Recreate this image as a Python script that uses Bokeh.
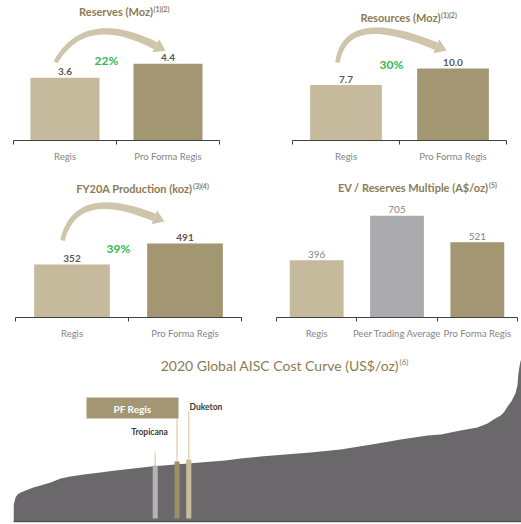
import numpy as np
from bokeh.plotting import figure
from bokeh.models import (Range1d, LinearAxis, FixedTicker, CustomJSTickFormatter,
                          Label, Span, ColumnDataSource)
from bokeh.layouts import column, row
from bokeh.embed import file_html
from bokeh.resources import INLINE
from bokeh.core.properties import value

# ---------------- data ----------------
two_cats = ["Regis", "Pro Forma Regis"]
reserves_moz = [3.6, 4.4]
resources_moz = [7.7, 10.0]
production_koz = [352, 491]
ev_cats = ["Regis", "Peer Trading Average", "Pro Forma Regis"]
ev_multiple = [396, 705, 521]
growth = ["22%", "30%", "39%"]

curve_cum_pct = [0, 0.4, 0.8, 1.4, 2.4, 3.9, 5.3, 7.3, 9.3, 11.2, 13.8, 17.1, 20.1, 23.6,
                 27.0, 31.9, 36.8, 41.7, 44.7, 48.6, 53.5, 58.5, 64.4, 71.7, 76.2, 81.5,
                 84.1, 88.0, 91.3, 93.3, 94.5, 95.9, 96.5, 97.4, 98.0, 98.4, 98.8, 99.2,
                 99.4, 99.6, 99.8, 100]
curve_aisc = [240, 360, 405, 435, 465, 510, 540, 585, 645, 675, 705, 735, 765, 795,
              825, 855, 885, 915, 945, 975, 1005, 1035, 1080, 1170, 1230, 1290,
              1305, 1365, 1410, 1470, 1530, 1590, 1635, 1740, 1800, 1860, 1920, 2040,
              2220, 2325, 2400, 2445]
mine_names = ["Tropicana", "PF Regis", "Duketon"]
mine_cum_pct = [27.9, 32.2, 34.5]
mine_aisc = [840, 900, 930]

# ---------------- style ----------------
FONT = "Lato"
TITLE_C = "#8B7B55"
AXIS_C = "#404040"
LABEL_C = "#858585"
VALUE_C = "#595959"
LIGHT = "#C6BA9D"
DARK = "#A39672"
PEER = "#ABABAF"
GREEN = "#33B853"
ARROW_C = "#CEC5AA"


def make_conv(page_left, page_top, b_left, frame_w, frame_h, x0, x1, y0, y1):
    fl = page_left + b_left
    ft = page_top

    def cx(px):
        return x0 + (px - fl) / frame_w * (x1 - x0)

    def cy(py):
        return y1 - (py - ft) / frame_h * (y1 - y0)
    return cx, cy


def add_title(p, cx, cy, split_x, y, main, sup, size="11px", bold=True):
    p.add_layout(Label(x=cx(split_x), y=cy(y), text=main, text_align="right",
                       text_baseline="middle", text_font=FONT, text_font_size=size,
                       text_font_style="bold" if bold else "normal", text_color=TITLE_C))
    p.add_layout(Label(x=cx(split_x + 0.5), y=cy(y - 2.5), text=sup, text_align="left",
                       text_baseline="middle", text_font=FONT, text_font_size="7px",
                       text_font_style="bold" if bold else "normal", text_color=TITLE_C))


def add_arrow(p, cx, cy, T, C, E, w0=4.5, w1=8.0, head_len=11.0, head_w=15.0):
    T = np.array(T, float); C = np.array(C, float); E = np.array(E, float)
    d = (E - C) / np.linalg.norm(E - C)
    H = E - d * head_len
    t = np.linspace(0, 1, 40)[:, None]
    P = (1 - t) ** 2 * T + 2 * t * (1 - t) * C + t ** 2 * H
    D = 2 * (1 - t) * (C - T) + 2 * t * (H - C)
    D = D / np.linalg.norm(D, axis=1)[:, None]
    N = np.stack([-D[:, 1], D[:, 0]], axis=1)
    w = (w0 + (w1 - w0) * t[:, 0])[:, None] / 2
    poly = np.vstack([P + N * w, (P - N * w)[::-1]])
    p.patch([cx(v) for v in poly[:, 0]], [cy(v) for v in poly[:, 1]],
            fill_color=ARROW_C, line_color=None)
    n_end = np.array([-d[1], d[0]])
    head = np.array([H + n_end * head_w / 2, E, H - n_end * head_w / 2])
    p.patch([cx(v) for v in head[:, 0]], [cy(v) for v in head[:, 1]],
            fill_color=ARROW_C, line_color=None)


def bar_panel(cats, vals, colors, ppu, page_left, page_top, fig_w, fig_h,
              b_left, b_right, b_bottom, fmt, bold_values=True):
    n = len(cats)
    frame_w = fig_w - b_left - b_right
    frame_h = fig_h - b_bottom
    y_end = frame_h / ppu
    p = figure(width=fig_w, height=fig_h, title=None,
               x_range=Range1d(0, n), y_range=Range1d(0, y_end),
               x_axis_location=None, y_axis_location=None,
               toolbar_location=None, output_backend="svg",
               min_border_left=b_left, min_border_right=b_right,
               min_border_top=0, min_border_bottom=b_bottom,
               outline_line_color=None, background_fill_color="white")
    p.grid.visible = False
    centers = [i + 0.5 for i in range(n)]
    axis = LinearAxis(
        ticker=FixedTicker(ticks=centers, minor_ticks=list(range(n + 1))),
        formatter=CustomJSTickFormatter(args=dict(labels=cats),
                                        code="return labels[Math.floor(tick)] || '';"),
        axis_line_color=AXIS_C, axis_line_width=1,
        major_tick_out=0, major_tick_in=0,
        minor_tick_out=4, minor_tick_in=0, minor_tick_line_color=AXIS_C,
        major_label_standoff=6, major_label_text_font=FONT,
        major_label_text_font_size="9.5px", major_label_text_color=LABEL_C)
    p.add_layout(axis, "below")
    src = ColumnDataSource(dict(x=centers, top=vals, color=colors,
                                label=[fmt.format(v) for v in vals]))
    p.vbar(x="x", top="top", width=0.67, fill_color="color", line_color=None, source=src)
    p.text(x="x", y="top", text="label", source=src, text_align="center",
           text_baseline="alphabetic", y_offset=-6, text_font=value(FONT),
           text_font_size="10px", text_font_style="bold" if bold_values else "normal",
           text_color=VALUE_C if bold_values else LABEL_C)
    conv = make_conv(page_left, page_top, b_left, frame_w, frame_h, 0, n, 0, y_end)
    return p, conv


def green(p, cx, cy, x, y, txt):
    p.add_layout(Label(x=cx(x), y=cy(y), text=txt, text_align="center",
                       text_baseline="middle", text_font=FONT, text_font_size="12px",
                       text_font_style="bold", text_color=GREEN))


# ---- Panel A: Reserves ----
pA, (ax, ay) = bar_panel(two_cats, reserves_moz, [LIGHT, DARK], 18.06,
                         0, 0, 260, 175, 13, 41, 30, "{:.1f}")
add_title(pA, ax, ay, 152.5, 11, "Reserves (Moz)", "(1)(2)")
add_arrow(pA, ax, ay, (55, 64), (85, 10), (165, 52))
green(pA, ax, ay, 106, 62, growth[0])

# ---- Panel B: Resources ----
pB, (bx, by) = bar_panel(two_cats, resources_moz, [LIGHT, DARK], 7.2,
                         260, 0, 261, 175, 32, 15, 35, "{:.1f}")
add_title(pB, bx, by, 440, 17, "Resources (Moz)", "(1)(2)")
add_arrow(pB, bx, by, (337, 62), (345, 8), (446, 50))
green(pB, bx, by, 391, 64, growth[1])

# ---- Panel C: Production ----
pC, (cxf, cyf) = bar_panel(two_cats, production_koz, [LIGHT, DARK], 0.1507,
                           0, 175, 260, 172, 15, 19, 30, "{:.0f}")
add_title(pC, cxf, cyf, 192, 188, "FY20A Production (koz)", "(3)(4)")
add_arrow(pC, cxf, cyf, (62, 240), (75, 185), (164, 221))
green(pC, cxf, cyf, 118, 248, growth[2])

# ---- Panel D: EV / Reserves ----
pD, (dx, dy) = bar_panel(ev_cats, ev_multiple, [LIGHT, PEER, DARK], 0.1445,
                         260, 175, 261, 172, 16, 4, 30, "{:.0f}", bold_values=False)
add_title(pD, dx, dy, 488, 187, "EV / Reserves Multiple (A$/oz)", "(5)")

# ---- Panel E: cost curve ----
E_PPU = 15.0  # US$/oz per px
E_TOP = 347
pE = figure(width=521, height=524 - E_TOP, title=None,
            x_range=Range1d(0, 100), y_range=Range1d(-3 * E_PPU, (521 - E_TOP) * E_PPU),
            x_axis_location=None, y_axis_location=None,
            toolbar_location=None, output_backend="svg",
            min_border_left=13, min_border_right=0, min_border_top=0, min_border_bottom=0,
            outline_line_color=None)
pE.grid.visible = False
pE.varea(x=curve_cum_pct, y1=[0] * len(curve_aisc), y2=curve_aisc, fill_color="#6B686C")
pE.add_layout(Span(location=0, dimension="width", line_color="#505050", line_width=1.5))


def ex(px):
    return (px - 13) / 5.08


def ey(py):
    return (521 - py) * E_PPU


leader_tops = [ey(452), ey(418), ey(411)]
mine_src = ColumnDataSource(dict(x=mine_cum_pct, top=mine_aisc, lt=leader_tops,
                                 color=["#B3B3B5", "#9C8F66", "#C9BC98"]))
pE.segment(x0="x", y0="top", x1="x", y1="lt", source=mine_src,
           line_color="#E3D8B8", line_width=1.5)
pE.vbar(x="x", top="top", bottom=3 * E_PPU, width=1.0, fill_color="color",
        line_color=None, source=mine_src)
pE.quad(left=ex(86), right=ex(178), bottom=ey(418), top=ey(397),
        fill_color=DARK, line_color=None)
pE.add_layout(Label(x=ex(132), y=ey(408), text=mine_names[1], text_align="center",
                    text_baseline="middle", text_font=FONT, text_font_size="10px",
                    text_font_style="bold", text_color="white"))
pE.add_layout(Label(x=ex(149), y=ey(431), text=mine_names[0], text_align="center",
                    text_baseline="middle", text_font=FONT, text_font_size="8.5px",
                    text_font_style="bold", text_color="#3A3A3A"))
pE.add_layout(Label(x=ex(189), y=ey(406), text=mine_names[2], text_align="left",
                    text_baseline="middle", text_font=FONT, text_font_size="8.5px",
                    text_font_style="bold", text_color="#3A3A3A"))
pE.add_layout(Label(x=ex(398.5), y=ey(365), text="2020 Global AISC Cost Curve (US$/oz)",
                    text_align="right", text_baseline="middle", text_font=FONT,
                    text_font_size="14px", text_color=TITLE_C))
pE.add_layout(Label(x=ex(399), y=ey(361), text="(6)", text_align="left",
                    text_baseline="middle", text_font=FONT, text_font_size="8px",
                    text_color=TITLE_C))

layout = column(row(pA, pB), row(pC, pD), pE)
open("out.html", "w").write(file_html(layout, INLINE))
